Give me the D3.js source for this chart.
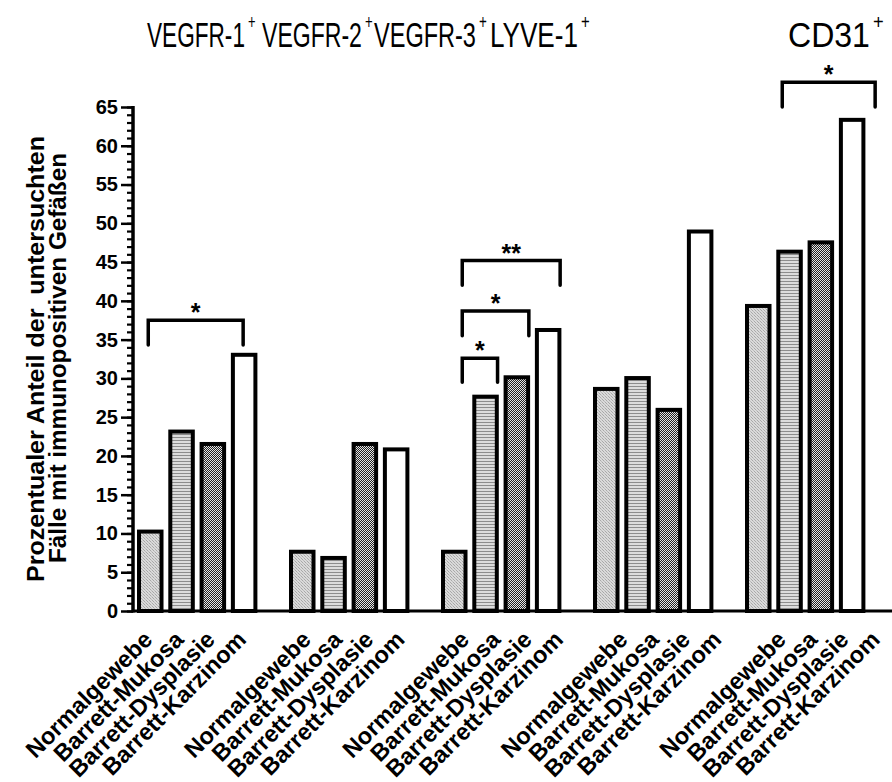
<!DOCTYPE html>
<html>
<head>
<meta charset="utf-8">
<script src="https://cdn.jsdelivr.net/npm/d3@7"></script>
<style>
  html, body { margin: 0; padding: 0; background: #fff; }
  svg { display: block; }
</style>
</head>
<body>
<svg id="chart" width="892" height="782"></svg>
<script>
// Marker groups and tissue categories
const groups = ["VEGFR-1", "VEGFR-2", "VEGFR-3", "LYVE-1", "CD31"];
const categories = ["Normalgewebe", "Barrett-Mukosa", "Barrett-Dysplasie", "Barrett-Karzinom"];

// Percentage of cases with immunopositive vessels, one array per tissue category (in group order)
const normalValues    = [10.5, 7.9, 7.9, 28.9, 39.6];
const mukosaValues    = [23.4, 7.1, 27.9, 30.3, 46.6];
const dysplasieValues = [21.8, 21.8, 30.4, 26.2, 47.8];
const karzinomValues  = [33.3, 21.1, 36.5, 49.2, 63.6];

// Y axis ticks
const yTickLabels = [0, 5, 10, 15, 20, 25, 30, 35, 40, 45, 50, 55, 60, 65];

// Significance brackets: group, first and last category, bar top and leg end (data units), label
const bracketGroups = ["VEGFR-1", "VEGFR-3", "VEGFR-3", "VEGFR-3", "CD31"];
const bracketFrom   = ["Normalgewebe", "Normalgewebe", "Normalgewebe", "Normalgewebe", "Normalgewebe"];
const bracketTo     = ["Barrett-Karzinom", "Barrett-Karzinom", "Barrett-Dysplasie", "Barrett-Mukosa", "Barrett-Karzinom"];
const bracketTop    = [37.5, 45.2, 38.7, 32.6, 68.2];
const bracketLeg    = [34.3, 42.0, 35.5, 29.5, 65.0];
const bracketLabels = ["*", "**", "*", "*", "*"];

// ---- layout ----
const W = 892, H = 782;
const axisX = 133, baseY = 611, topY = 107;
const bracketShiftL = [-2, 8, 8, 8, 24];
const bracketShiftR = [-1, 12, 12, 12, 23];
// heading positions: start x and drawn width of each marker name
const headX     = [147, 262, 374, 490, 788];
const headWidth = [98, 100, 102, 88, 82];

const svg = d3.select("#chart");
svg.append("rect").attr("width", W).attr("height", H).attr("fill", "#fff");

const table = categories.map((c, i) => ({
  category: c,
  values: [normalValues, mukosaValues, dysplasieValues, karzinomValues][i]
}));

const y = d3.scaleLinear().domain([0, 65]).range([baseY, topY]);
const xGroup = d3.scaleBand().domain(groups).range([137, 137 + 5 * 152]).paddingInner(0).paddingOuter(0);
const xCat = d3.scaleBand().domain(categories).range([0, 120.4]).paddingInner(0.153).paddingOuter(0);
// category labels sit on a slightly wider group spacing than the bars
const xLabelGroup = d3.scaleBand().domain(groups).range([140.5, 140.5 + 5 * 158.4]).paddingInner(0).paddingOuter(0);

// ---- fill patterns ----
const defs = svg.append("defs");

// fine grey diagonal texture
const pN = defs.append("pattern").attr("id", "pNormal").attr("patternUnits", "userSpaceOnUse")
  .attr("width", 3).attr("height", 3);
pN.append("rect").attr("width", 3).attr("height", 3).attr("fill", "#dadada");
pN.append("rect").attr("x", 0).attr("y", 0).attr("width", 1).attr("height", 1).attr("fill", "#a8a8a8");
pN.append("rect").attr("x", 1).attr("y", 1).attr("width", 1).attr("height", 1).attr("fill", "#a8a8a8");
pN.append("rect").attr("x", 2).attr("y", 2).attr("width", 1).attr("height", 1).attr("fill", "#bcbcbc");

// horizontal grey stripes
const pM = defs.append("pattern").attr("id", "pMukosa").attr("patternUnits", "userSpaceOnUse")
  .attr("width", 4).attr("height", 3);
pM.append("rect").attr("width", 4).attr("height", 3).attr("fill", "#dcdcdc");
pM.append("rect").attr("y", 2).attr("width", 4).attr("height", 1).attr("fill", "#8c8c8c");

// dark checkerboard dither
const pD = defs.append("pattern").attr("id", "pDysplasie").attr("patternUnits", "userSpaceOnUse")
  .attr("width", 2).attr("height", 2);
pD.append("rect").attr("width", 2).attr("height", 2).attr("fill", "#e4e4e4");
pD.append("rect").attr("x", 0).attr("y", 0).attr("width", 1).attr("height", 1).attr("fill", "#222");
pD.append("rect").attr("x", 1).attr("y", 1).attr("width", 1).attr("height", 1).attr("fill", "#222");

const fills = {
  "Normalgewebe": "url(#pNormal)",
  "Barrett-Mukosa": "url(#pMukosa)",
  "Barrett-Dysplasie": "url(#pDysplasie)",
  "Barrett-Karzinom": "#fff"
};

// ---- bars ----
const sw = 4;
const gGroups = svg.append("g").selectAll("g").data(groups).join("g")
  .attr("transform", g => `translate(${xGroup(g)},0)`);

gGroups.selectAll("rect")
  .data((g, gi) => table.map(t => ({ group: g, category: t.category, value: t.values[gi] })))
  .join("rect")
  .attr("x", d => xCat(d.category) + sw / 2)
  .attr("y", d => y(d.value) + sw / 2)
  .attr("width", xCat.bandwidth() - sw)
  .attr("height", d => baseY - y(d.value) - sw / 2)
  .attr("fill", d => fills[d.category])
  .attr("stroke", "#000")
  .attr("stroke-width", sw);

// ---- x axis line ----
svg.append("line")
  .attr("x1", axisX).attr("x2", W)
  .attr("y1", baseY).attr("y2", baseY)
  .attr("stroke", "#000").attr("stroke-width", 3);

// ---- y axis ----
const yAxisMinor = d3.axisLeft(y).tickValues(d3.range(0, 66, 1)).tickSize(6).tickFormat("");
const yAxisMajor = d3.axisLeft(y).tickValues(yTickLabels).tickSize(12).tickPadding(3).tickFormat(d3.format("d"));

const gMinor = svg.append("g").attr("transform", `translate(${axisX},0)`).call(yAxisMinor);
gMinor.select(".domain").remove();
gMinor.selectAll(".tick line").attr("stroke", "#000").attr("stroke-width", 2.2);

const gMajor = svg.append("g").attr("transform", `translate(${axisX},0)`).call(yAxisMajor);
gMajor.select(".domain").remove();
gMajor.selectAll(".tick line").attr("stroke", "#000").attr("stroke-width", 2.5);
gMajor.selectAll(".tick text")
  .attr("fill", "#000")
  .style("font-family", "'Liberation Sans', Arial, sans-serif")
  .style("font-weight", "bold")
  .style("font-size", "20px");

svg.append("line")
  .attr("x1", axisX).attr("x2", axisX)
  .attr("y1", y(65) - 1).attr("y2", baseY + 1.5)
  .attr("stroke", "#000").attr("stroke-width", 3.5);

// ---- x category labels ----
const labelFont = "'Liberation Sans', Arial, sans-serif";
svg.append("g").selectAll("g").data(groups).join("g")
  .attr("transform", g => `translate(${xLabelGroup(g)},0)`)
  .selectAll("text")
  .data(categories)
  .join("text")
  .attr("transform", c => `translate(${xCat(c) + xCat.bandwidth() / 2},${baseY + 30}) rotate(-45)`)
  .attr("text-anchor", "end")
  .style("font-family", labelFont)
  .style("font-weight", "bold")
  .style("font-size", "23.5px")
  .attr("fill", "#000")
  .text(c => c);

// ---- y axis title ----
const yTitle = svg.append("g")
  .style("font-family", labelFont)
  .style("font-weight", "bold")
  .style("font-size", "23px")
  .attr("fill", "#000");
yTitle.append("text")
  .attr("transform", "translate(44,359) rotate(-90)")
  .attr("text-anchor", "middle")
  .attr("textLength", 446).attr("lengthAdjust", "spacingAndGlyphs")
  .attr("xml:space", "preserve")
  .text("Prozentualer Anteil der  untersuchten");
yTitle.append("text")
  .attr("transform", "translate(66,358) rotate(-90)")
  .attr("text-anchor", "middle")
  .attr("textLength", 410).attr("lengthAdjust", "spacingAndGlyphs")
  .text("Fälle mit immunopositiven Gefäßen");

// ---- top marker headings (condensed, with superscript +) ----
const gHead = svg.append("g").attr("fill", "#000")
  .style("font-family", "'Liberation Sans', Arial, sans-serif");
groups.forEach((g, i) => {
  const t = gHead.append("text").style("font-size", "35px");
  const word = t.append("tspan").text(g);
  const natural = word.node().getComputedTextLength();
  const sx = headWidth[i] / natural;
  t.append("tspan").attr("dx", 3 / sx).attr("dy", -18).style("font-size", "20px").text("+");
  t.attr("transform", `translate(${headX[i]},47) scale(${sx},1)`);
});

// ---- significance brackets ----
const gB = svg.append("g");
bracketGroups.forEach((g, i) => {
  const x1 = xGroup(g) + xCat(bracketFrom[i]) + xCat.bandwidth() / 2 + bracketShiftL[i];
  const x2 = xGroup(g) + xCat(bracketTo[i]) + xCat.bandwidth() / 2 + bracketShiftR[i];
  const yt = y(bracketTop[i]), yl = y(bracketLeg[i]);
  gB.append("path")
    .attr("d", `M${x1},${yl} L${x1},${yt} L${x2},${yt} L${x2},${yl}`)
    .attr("fill", "none").attr("stroke", "#000").attr("stroke-width", 3.5)
    .attr("stroke-linecap", "round").attr("stroke-linejoin", "miter");
  gB.append("text")
    .attr("x", (x1 + x2) / 2).attr("y", yt + 1)
    .attr("text-anchor", "middle")
    .style("font-family", labelFont)
    .style("font-weight", "bold")
    .style("font-size", "25px")
    .attr("fill", "#000")
    .text(bracketLabels[i]);
});
</script>
</body>
</html>
